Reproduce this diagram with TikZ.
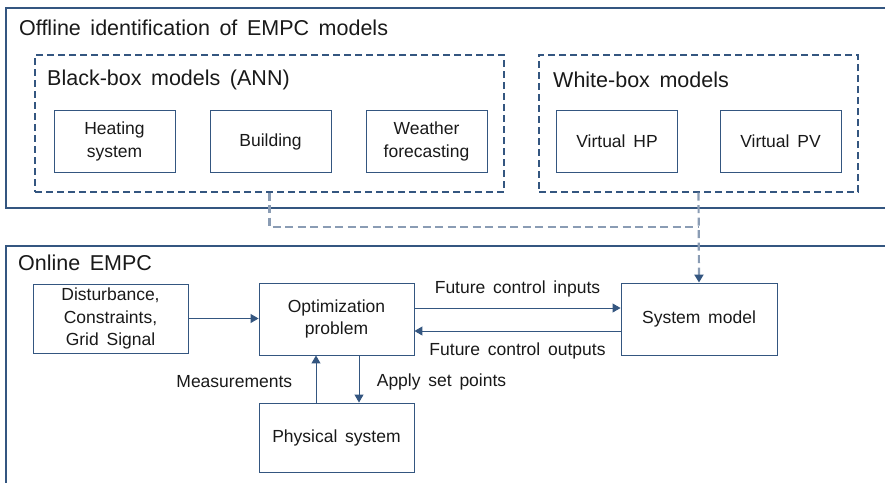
\documentclass[tikz,border=0pt]{standalone}
\usepackage{fontspec}
\setmainfont{Liberation Sans}[WordSpace=1.6]
\usetikzlibrary{arrows.meta,positioning,calc}
\definecolor{frame}{RGB}{52,86,128}
\definecolor{link}{RGB}{138,156,180}
\definecolor{ink}{RGB}{25,25,25}

\begin{document}
\begin{tikzpicture}[x=1pt, y=-1pt,
  panel/.style={draw=frame, line width=1.4pt},
  group/.style={draw=frame, line width=1.4pt, dash pattern=on 7pt off 4pt, minimum height=137pt},
  blk/.style={draw=frame, line width=0.9pt, align=center, text=ink, font=\fontsize{17.5}{22.5}\selectfont},
  head/.style={anchor=west, inner sep=0pt, text=ink, font=\fontsize{21.5}{24}\selectfont},
  lbl/.style={text=ink, font=\fontsize{17.5}{22.5}\selectfont},
  flow/.style={draw=frame, line width=1pt, -{Triangle[length=8pt,width=9pt]}},
  feed/.style={draw=link, line width=2.2pt, dash pattern=on 8pt off 4.5pt}]
\useasboundingbox (0,0) rectangle (885,482);
\clip (0,0) rectangle (885,482);
% offline identification
\draw[panel] (6,8) rectangle (900,208);
\node[head] (offline) at (19,28) {Offline identification of EMPC models};
\node[group, minimum width=469pt] (black) at (269.5,123.5) {};
\node[group, minimum width=319pt] (white) at (698.5,123.5) {};
\node[head] (blacktitle) at (47,80) {Black-box models (ANN)};
\node[head] (whitetitle) at (553,80) {White-box models};
\foreach \n/\x/\t in {heat/114.5/{Heating\\system}, build/270.5/{Building}, weather/426.5/{Weather\\forecasting}, hp/617/{Virtual HP}, pv/780.5/{Virtual PV}}
  { \node[blk, minimum width=121pt, minimum height=62pt] (\n) at (\x,141.5) {\t}; }
% online EMPC
\draw[panel] (6,246) rectangle (900,500);
\node[head] (online) at (18,263) {Online EMPC};
\node[blk, minimum width=155pt, minimum height=69pt] (dist) at (110.5,318.5) {Disturbance,\\Constraints,\\Grid Signal};
\node[blk, minimum width=155pt, minimum height=72pt] (opt) at (336.5,319) {Optimization\\problem};
\node[blk, minimum width=155pt, minimum height=69pt] (phys) at (336.5,437.5) {Physical system};
\node[blk, minimum width=156pt, minimum height=72pt] (model) at (699,319) {System model};
% connectors
\coordinate (join) at (698.5,227);
\draw[feed] (black.south) |- (join);
\draw[feed, -{Triangle[length=8pt,width=9pt,color=frame]}] (white.south) -- (model.north);
\draw[flow] (dist.east) -- (dist.east -| opt.west);
\draw[flow] ([yshift=11pt]opt.east) -- node[lbl, above=7pt] {Future control inputs} ([yshift=11pt]model.west);
\draw[flow] ([yshift=-12pt]model.west) -- node[lbl, below=8pt] {Future control outputs} ([yshift=-12pt]opt.east);
\draw[flow] ([xshift=-20.5pt]phys.north) -- node[lbl, left=20pt, yshift=-3pt] {Measurements} ([xshift=-20.5pt]opt.south);
\draw[flow] ([xshift=22.5pt]opt.south) -- node[lbl, right=14pt, yshift=-3pt] {Apply set points} ([xshift=22.5pt]phys.north);
\end{tikzpicture}
\end{document}
